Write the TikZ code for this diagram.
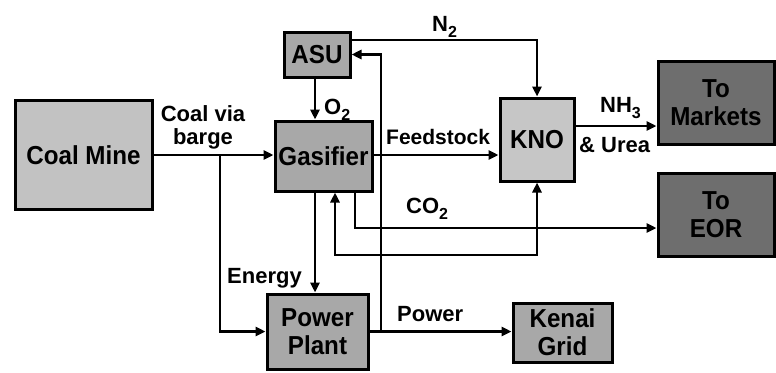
\documentclass[tikz,border=0pt]{standalone}
\usepackage{fontspec}
\setmainfont{Liberation Sans}
\newfontfamily\boxfont[FakeStretch=0.93]{Liberation Sans}
\usetikzlibrary{arrows.meta,calc}
\newcommand\subsc[1]{\raisebox{-0.55ex}{\fontsize{16}{16}\selectfont #1}}
\definecolor{gA}{HTML}{C2C2C2}
\definecolor{gB}{HTML}{A8A8A8}
\definecolor{gC}{HTML}{C6C6C6}
\definecolor{gD}{HTML}{6E6E6E}
\begin{document}
\begin{tikzpicture}[x=1pt,y=-1pt,
  box/.style={draw=black,line width=3pt,align=center,font=\boxfont\fontsize{26}{28}\selectfont\bfseries,inner sep=0pt},
  lab/.style={font=\fontsize{22}{23}\selectfont\bfseries,inner sep=0pt},
  arr/.style={line width=2.5pt,-{Triangle[length=10pt,width=9pt]}},
  arrb/.style={line width=2.5pt,{Triangle[length=10pt,width=9pt]}-{Triangle[length=10pt,width=9pt]}},
  ln/.style={line width=2.5pt}]
\useasboundingbox (0,0) rectangle (776,372);
% boxes
\node[box,fill=gA,minimum width=137pt,minimum height=109pt] (coal) at (83.5,155) {Coal Mine};
\node[box,fill=gB,minimum width=66pt,minimum height=45pt] (asu) at (317,54.5) {ASU};
\node[box,fill=gB,minimum width=97pt,minimum height=70pt] (gas) at (323.5,156) {Gasifier};
\node[box,fill=gC,minimum width=74pt,minimum height=83pt] (kno) at (537,139.5) {KNO};
\node[box,fill=gD,minimum width=116pt,minimum height=83pt] (mkt) at (716,102.5) {To\\Markets};
\node[box,fill=gD,minimum width=116pt,minimum height=83pt] (eor) at (716,214.5) {To\\EOR};
\node[box,fill=gB,minimum width=101pt,minimum height=75pt] (pp) at (317.5,331.5) {Power\\Plant};
\node[box,fill=gB,minimum width=99pt,minimum height=59pt] (grid) at (562.5,332.5) {Kenai\\Grid};
% helper coordinates
\coordinate (b1) at (220,155);
\coordinate (cx) at (315,0);
\coordinate (px) at (381,0);
\coordinate (n2y) at (0,40);
\coordinate (c1) at (355,228);
\coordinate (l1) at (335,255);
\coordinate (nh) at (0,126);
% connectors
\draw[arr] (coal.east) -- (coal.east -| gas.west);
\draw[arr] (b1) |- (pp.west);
\draw[arr] (asu.south -| cx) -- (gas.north -| cx);
\draw[arr] (gas.south -| cx) -- (pp.north -| cx);
\draw[arr] (gas.east |- b1) -- (b1 -| kno.west);
\draw[arr] (asu.east |- n2y) -| (kno.north);
\draw[arr] (pp.east) -- (pp.east -| grid.west);
\draw[arr] (pp.east -| px) |- (asu.east);
\draw[arr] (gas.south -| c1) -- (c1) -- (c1 -| eor.west);
\draw[arrb] (gas.south -| l1) -- (l1) -- (l1 -| kno.south) -- (kno.south);
\draw[arr] (kno.east |- nh) -- (mkt.west |- nh);
% labels
\node[lab,anchor=base] (lcv) at (203,121) {Coal via};
\node[lab,anchor=base] (lbg) at (203,144) {barge};
\node[lab,anchor=base west] (lo2) at (324,114) {O\subsc{2}};
\node[lab,anchor=base west] (ln2) at (432,31) {N\subsc{2}};
\node[lab,anchor=base west,font=\fontsize{21}{23}\selectfont\bfseries] (lfs) at (386,144) {Feedstock};
\node[lab,anchor=base west] (lnh) at (600,112) {NH\subsc{3}};
\node[lab,anchor=base west] (lur) at (579,152) {\& Urea};
\node[lab,anchor=base west] (lco) at (406,213) {CO\subsc{2}};
\node[lab,anchor=base west] (len) at (227,283) {Energy};
\node[lab,anchor=base west] (lpw) at (397,321) {Power};
\end{tikzpicture}
\end{document}
